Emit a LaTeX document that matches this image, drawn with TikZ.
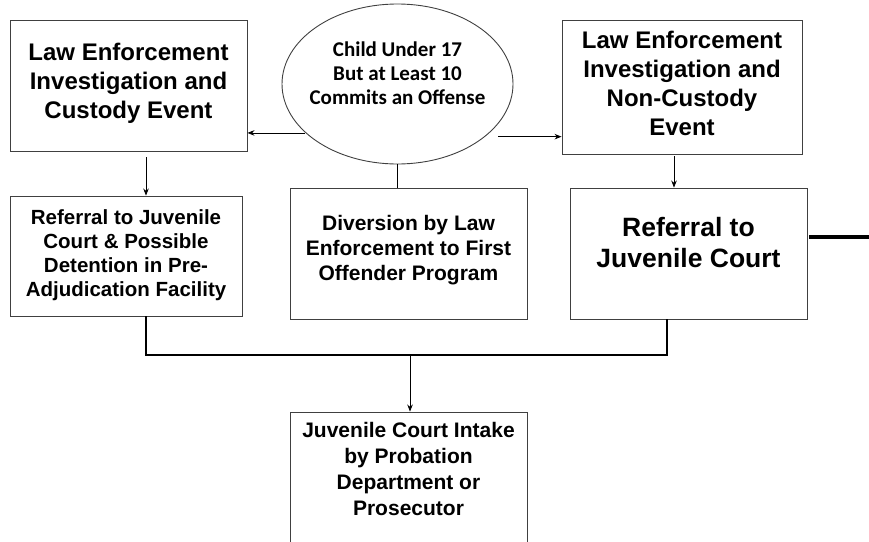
\documentclass[tikz,border=0pt]{standalone}
\usepackage{fontspec}
\setmainfont{Liberation Sans}
\newfontfamily\calibfont{Carlito}
\usetikzlibrary{arrows.meta,shapes.geometric,positioning,calc}

\begin{document}
\begin{tikzpicture}[x=1pt, y=-1pt,
        box/.style={draw=black!75, line width=0.9pt, inner sep=0pt, align=center},
        oval/.style={draw=black!75, line width=0.9pt, ellipse},
        arrow/.style={->, >={Stealth[length=7pt, width=5.5pt]}, line width=0.8pt},
        bus/.style={line width=2pt}
    ]
    \clip (0,0) rectangle (869,541);
    % Top row
    \node[box, minimum width=237pt, minimum height=131pt, text depth=10pt,
        font=\fontsize{24}{29}\selectfont\bfseries] (custody) at (128.5,85.5)
        {Law Enforcement\\Investigation and\\Custody Event};
    \node[oval, minimum width=231pt, minimum height=160pt,
        label={[yshift=11pt, align=center, font=\calibfont\fontsize{21}{24}\selectfont\bfseries]center:Child Under 17\\But at Least 10\\Commits an Offense}] (child) at (397.5,84) {};
    \node[box, minimum width=240pt, minimum height=134pt, text depth=8pt,
        font=\fontsize{24}{29}\selectfont\bfseries] (noncustody) at (682,87)
        {Law Enforcement\\Investigation and\\Non-Custody\\Event};
    % Middle row
    \node[box, minimum width=232pt, minimum height=120pt, text depth=6pt,
        font=\fontsize{20.5}{24}\selectfont\bfseries] (referral) at (126,256)
        {Referral to Juvenile\\Court \& Possible\\Detention in Pre-\\Adjudication Facility};
    \node[box, minimum width=237pt, minimum height=131pt, text depth=12pt,
        font=\fontsize{21}{25}\selectfont\bfseries] (diversion) at (408.5,253.5)
        {Diversion by Law\\Enforcement to First\\Offender Program};
    \node[box, minimum width=237pt, minimum height=131pt, text depth=23pt,
        font=\fontsize{26.5}{31}\selectfont\bfseries] (juvcourt) at (688.5,253.5)
        {Referral to\\Juvenile Court};
    % Bottom
    \node[box, minimum width=237pt, minimum height=140pt, text depth=26pt,
        font=\fontsize{21}{26}\selectfont\bfseries] (intake) at (408.5,482)
        {Juvenile Court Intake\\by Probation\\Department or\\Prosecutor};
    % Connectors
    \draw[arrow] (child.208) -- (child.208 -| custody.east);
    \coordinate (rgt) at ([xshift=13pt]child.-31);
    \draw[arrow] (rgt) -- (rgt -| noncustody.west);
    \coordinate (lft) at ([xshift=17.5pt, yshift=-6pt]custody.south);
    \draw[arrow] (lft) -- (lft |- referral.north);
    \draw[line width=0.8pt] (child.south) -- (child.south |- diversion.north);
    \draw[arrow] ([xshift=-8pt, yshift=-2pt]noncustody.south) -- ([xshift=-8pt]noncustody.south |- juvcourt.north);
    \coordinate (bus) at (410,355);
    \draw[bus] ([xshift=20pt]referral.south) |- (bus) -| ([xshift=-21.5pt]juvcourt.south);
    \draw[arrow] (bus) -- (bus |- intake.north);
    \coordinate (exit) at (869,237);
    \draw[line width=3.2pt] ([xshift=2pt]juvcourt.east |- exit) -- (exit);
\end{tikzpicture}
\end{document}
